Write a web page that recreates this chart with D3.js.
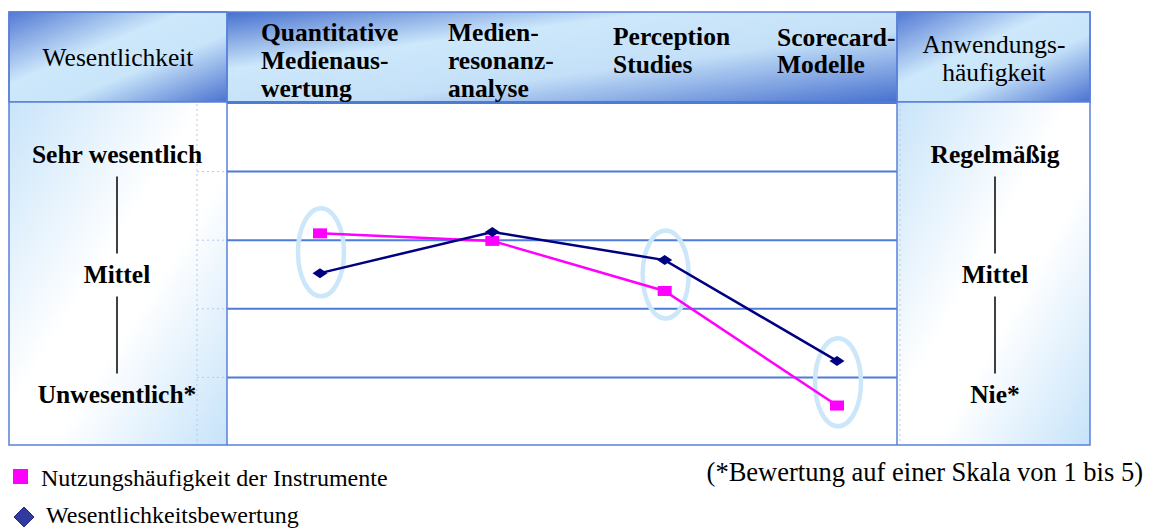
<!DOCTYPE html>
<html>
<head>
<meta charset="utf-8">
<script src="https://cdn.jsdelivr.net/npm/d3@7"></script>
<style>
  body { margin: 0; background: #fff; }
  svg { display: block; }
  text { font-family: "Liberation Serif", "Times New Roman", serif; fill: #000; }
</style>
</head>
<body>
<script>
// Instruments compared (column headers, split over lines as printed)
const categories = ["Quantitative Medienauswertung", "Medienresonanzanalyse", "Perception Studies", "Scorecard-Modelle"];
const categoryLines = [
  ["Quantitative", "Medienaus-", "wertung"],
  ["Medien-", "resonanz-", "analyse"],
  ["Perception", "Studies"],
  ["Scorecard-", "Modelle"]
];

// Series values on the chart's value axis (gridlines at 1..4, range 0..5)
const usageFrequency = [3.10, 2.99, 2.26, 0.59];   // Nutzungshäufigkeit der Instrumente
const importanceRating = [2.52, 3.12, 2.71, 1.24]; // Wesentlichkeitsbewertung

// Instruments circled as notable
const highlighted = ["Quantitative Medienauswertung", "Perception Studies", "Scorecard-Modelle"];

// Scale labels on both sides
const leftTickValues = [4.25, 2.5, 0.75];
const leftTickLabels = ["Sehr wesentlich", "Mittel", "Unwesentlich*"];
const rightTickLabels = ["Regelmäßig", "Mittel", "Nie*"];
const gridValues = [1, 2, 3, 4];

const seriesNames = ["Nutzungshäufigkeit der Instrumente", "Wesentlichkeitsbewertung"];
const footnote = "(*Bewertung auf einer Skala von 1 bis 5)";

// ---- layout ----
const W = 1149, H = 529;
const frame = { left: 9, right: 1090, top: 12, headBottom: 102, bottom: 445 };
const plotLeft = 227, plotRight = 897;
const headerLabelX = [261, 448, 613, 777];
const headerBaselines = [[41, 69, 97], [41, 69, 97], [45, 73], [46, 73]];

const blueLine = "#5a80d8";
const gridBlue = "#4f7bd8";
const darkBlue = "#4670cf";
const lightBlue = "#cde8fb";
const pink = "#ff00ff";
const navy = "#000080";

const svg = d3.select("body").append("svg").attr("width", W).attr("height", H);
const defs = svg.append("defs");

function diagGradient(id, stops) {
  const g = defs.append("linearGradient").attr("id", id)
    .attr("x1", 0).attr("y1", 0).attr("x2", 1).attr("y2", 1);
  stops.forEach(([o, c]) => g.append("stop").attr("offset", o).attr("stop-color", c));
}
diagGradient("headGrad", [[0, darkBlue], [0.32, lightBlue], [0.6, "#c4e0f8"], [1, darkBlue]]);
diagGradient("boxGrad", [[0, "#5279d4"], [0.4, lightBlue], [0.62, "#c9e5fa"], [1, "#4a72d0"]]);
diagGradient("panelGrad", [[0, "#c8e4fa"], [0.45, "#ffffff"], [0.6, "#ffffff"], [1, "#c6e3fa"]]);

const x = d3.scalePoint().domain(categories).range([320, 837]);
const y = d3.scaleLinear().domain([0, 5]).range([frame.bottom + 1, frame.headBottom + 1]);

// ---- header band ----
svg.append("rect")
  .attr("x", plotLeft).attr("y", frame.top)
  .attr("width", plotRight - plotLeft).attr("height", frame.headBottom - frame.top)
  .attr("fill", "url(#headGrad)");
svg.append("rect")
  .attr("x", frame.left).attr("y", frame.top)
  .attr("width", plotLeft - frame.left).attr("height", frame.headBottom - frame.top)
  .attr("fill", "url(#boxGrad)").attr("stroke", blueLine).attr("stroke-width", 1.5);
svg.append("rect")
  .attr("x", plotRight).attr("y", frame.top)
  .attr("width", frame.right - plotRight).attr("height", frame.headBottom - frame.top)
  .attr("fill", "url(#boxGrad)").attr("stroke", blueLine).attr("stroke-width", 1.5);

// ---- side panels ----
svg.append("rect")
  .attr("x", frame.left).attr("y", frame.headBottom)
  .attr("width", plotLeft - frame.left).attr("height", frame.bottom - frame.headBottom)
  .attr("fill", "url(#panelGrad)");
svg.append("rect")
  .attr("x", plotRight).attr("y", frame.headBottom)
  .attr("width", frame.right - plotRight).attr("height", frame.bottom - frame.headBottom)
  .attr("fill", "url(#panelGrad)");

// faint dotted guides inside the side panels
const dotted = svg.append("g").attr("stroke", "#b9c9ea").attr("stroke-width", 1)
  .attr("stroke-dasharray", "2,3").attr("fill", "none");
dotted.append("line").attr("x1", 197).attr("x2", 197).attr("y1", frame.headBottom + 2).attr("y2", frame.bottom);
dotted.append("line").attr("x1", plotRight + 3).attr("x2", plotRight + 3).attr("y1", frame.headBottom + 2).attr("y2", frame.bottom);
dotted.selectAll("line.h").data(gridValues).join("line").attr("class", "h")
  .attr("x1", 197).attr("x2", plotLeft).attr("y1", d => y(d)).attr("y2", d => y(d));

// ---- gridlines ----
svg.append("g").selectAll("line").data(gridValues).join("line")
  .attr("x1", plotLeft).attr("x2", plotRight)
  .attr("y1", d => y(d)).attr("y2", d => y(d))
  .attr("stroke", gridBlue).attr("stroke-width", 2);

// header bottom rule
svg.append("line")
  .attr("x1", plotLeft).attr("x2", plotRight)
  .attr("y1", frame.headBottom + 0.5).attr("y2", frame.headBottom + 0.5)
  .attr("stroke", gridBlue).attr("stroke-width", 3);

// outer frame and panel borders
const borders = svg.append("g").attr("fill", "none").attr("stroke", blueLine).attr("stroke-width", 1.5);
borders.append("rect")
  .attr("x", frame.left).attr("y", frame.top)
  .attr("width", frame.right - frame.left).attr("height", frame.bottom - frame.top);
borders.append("line").attr("x1", plotLeft).attr("x2", plotLeft).attr("y1", frame.top).attr("y2", frame.bottom);
borders.append("line").attr("x1", plotRight).attr("x2", plotRight).attr("y1", frame.top).attr("y2", frame.bottom);
borders.append("line").attr("x1", frame.left).attr("x2", plotLeft).attr("y1", frame.headBottom).attr("y2", frame.headBottom);
borders.append("line").attr("x1", plotRight).attr("x2", frame.right).attr("y1", frame.headBottom).attr("y2", frame.headBottom);

// ---- header texts ----
svg.append("text").attr("x", 118).attr("y", 66).attr("text-anchor", "middle")
  .attr("font-size", 25.5).text("Wesentlichkeit");
const rightHead = svg.append("text").attr("text-anchor", "middle").attr("font-size", 25.5);
rightHead.append("tspan").attr("x", 994).attr("y", 53).text("Anwendungs-");
rightHead.append("tspan").attr("x", 994).attr("y", 81).text("häufigkeit");

categoryLines.forEach((lines, i) => {
  const t = svg.append("text").attr("font-size", 25.5).attr("font-weight", "bold");
  lines.forEach((ln, j) => {
    t.append("tspan").attr("x", headerLabelX[i]).attr("y", headerBaselines[i][j]).text(ln);
  });
});

// ---- scale labels with connecting strokes ----
function sideScale(cx, labels) {
  const g = svg.append("g");
  g.selectAll("text").data(labels).join("text")
    .attr("x", cx).attr("y", (d, i) => y(leftTickValues[i]))
    .attr("dy", "0.33em").attr("text-anchor", "middle")
    .attr("font-size", 25.5).attr("font-weight", "bold").text(d => d);
  d3.pairs(leftTickValues).forEach(([a, b]) => {
    g.append("line").attr("x1", cx).attr("x2", cx)
      .attr("y1", y(a) + 22).attr("y2", y(b) - 21)
      .attr("stroke", "#000").attr("stroke-width", 1.5);
  });
}
sideScale(117, leftTickLabels);
sideScale(995, rightTickLabels);

// ---- highlight ellipses ----
svg.append("g").selectAll("ellipse").data(highlighted).join("ellipse")
  .attr("cx", d => x(d) + 1)
  .attr("cy", d => {
    const i = categories.indexOf(d);
    return (y(usageFrequency[i]) + y(importanceRating[i])) / 2 - 1;
  })
  .attr("rx", 23).attr("ry", 44)
  .attr("fill", "none").attr("stroke", "#cce7fa").attr("stroke-width", 4.5);

// ---- series lines ----
const line = d3.line().x((d, i) => x(categories[i])).y(d => y(d));
svg.append("path").datum(usageFrequency).attr("d", line)
  .attr("fill", "none").attr("stroke", pink).attr("stroke-width", 2.5);
svg.append("path").datum(importanceRating).attr("d", line)
  .attr("fill", "none").attr("stroke", navy).attr("stroke-width", 2.5);

// markers: squares for usage, flat diamonds for importance
svg.append("g").selectAll("rect").data(usageFrequency).join("rect")
  .attr("x", (d, i) => x(categories[i]) - 7).attr("y", d => y(d) - 5)
  .attr("width", 14).attr("height", 10).attr("fill", pink);
const diamond = (cx, cy, w, h) => `M${cx - w},${cy}L${cx},${cy - h}L${cx + w},${cy}L${cx},${cy + h}Z`;
svg.append("g").selectAll("path").data(importanceRating).join("path")
  .attr("d", (d, i) => diamond(x(categories[i]), y(d), 7.5, 5))
  .attr("fill", navy);

// ---- legend ----
const legend = svg.append("g");
legend.append("rect").attr("x", 13).attr("y", 469).attr("width", 15).attr("height", 15).attr("fill", pink);
legend.append("text").attr("x", 41).attr("y", 486).attr("font-size", 24).text(seriesNames[0]);
legend.append("path").attr("d", diamond(24, 517, 10, 10))
  .attr("fill", "#333a9e").attr("stroke", "#23298a").attr("stroke-width", 1);
legend.append("text").attr("x", 46).attr("y", 523).attr("font-size", 24).text(seriesNames[1]);

svg.append("text").attr("x", 1143).attr("y", 481).attr("text-anchor", "end")
  .attr("font-size", 26.5).text(footnote);
</script>
</body>
</html>
